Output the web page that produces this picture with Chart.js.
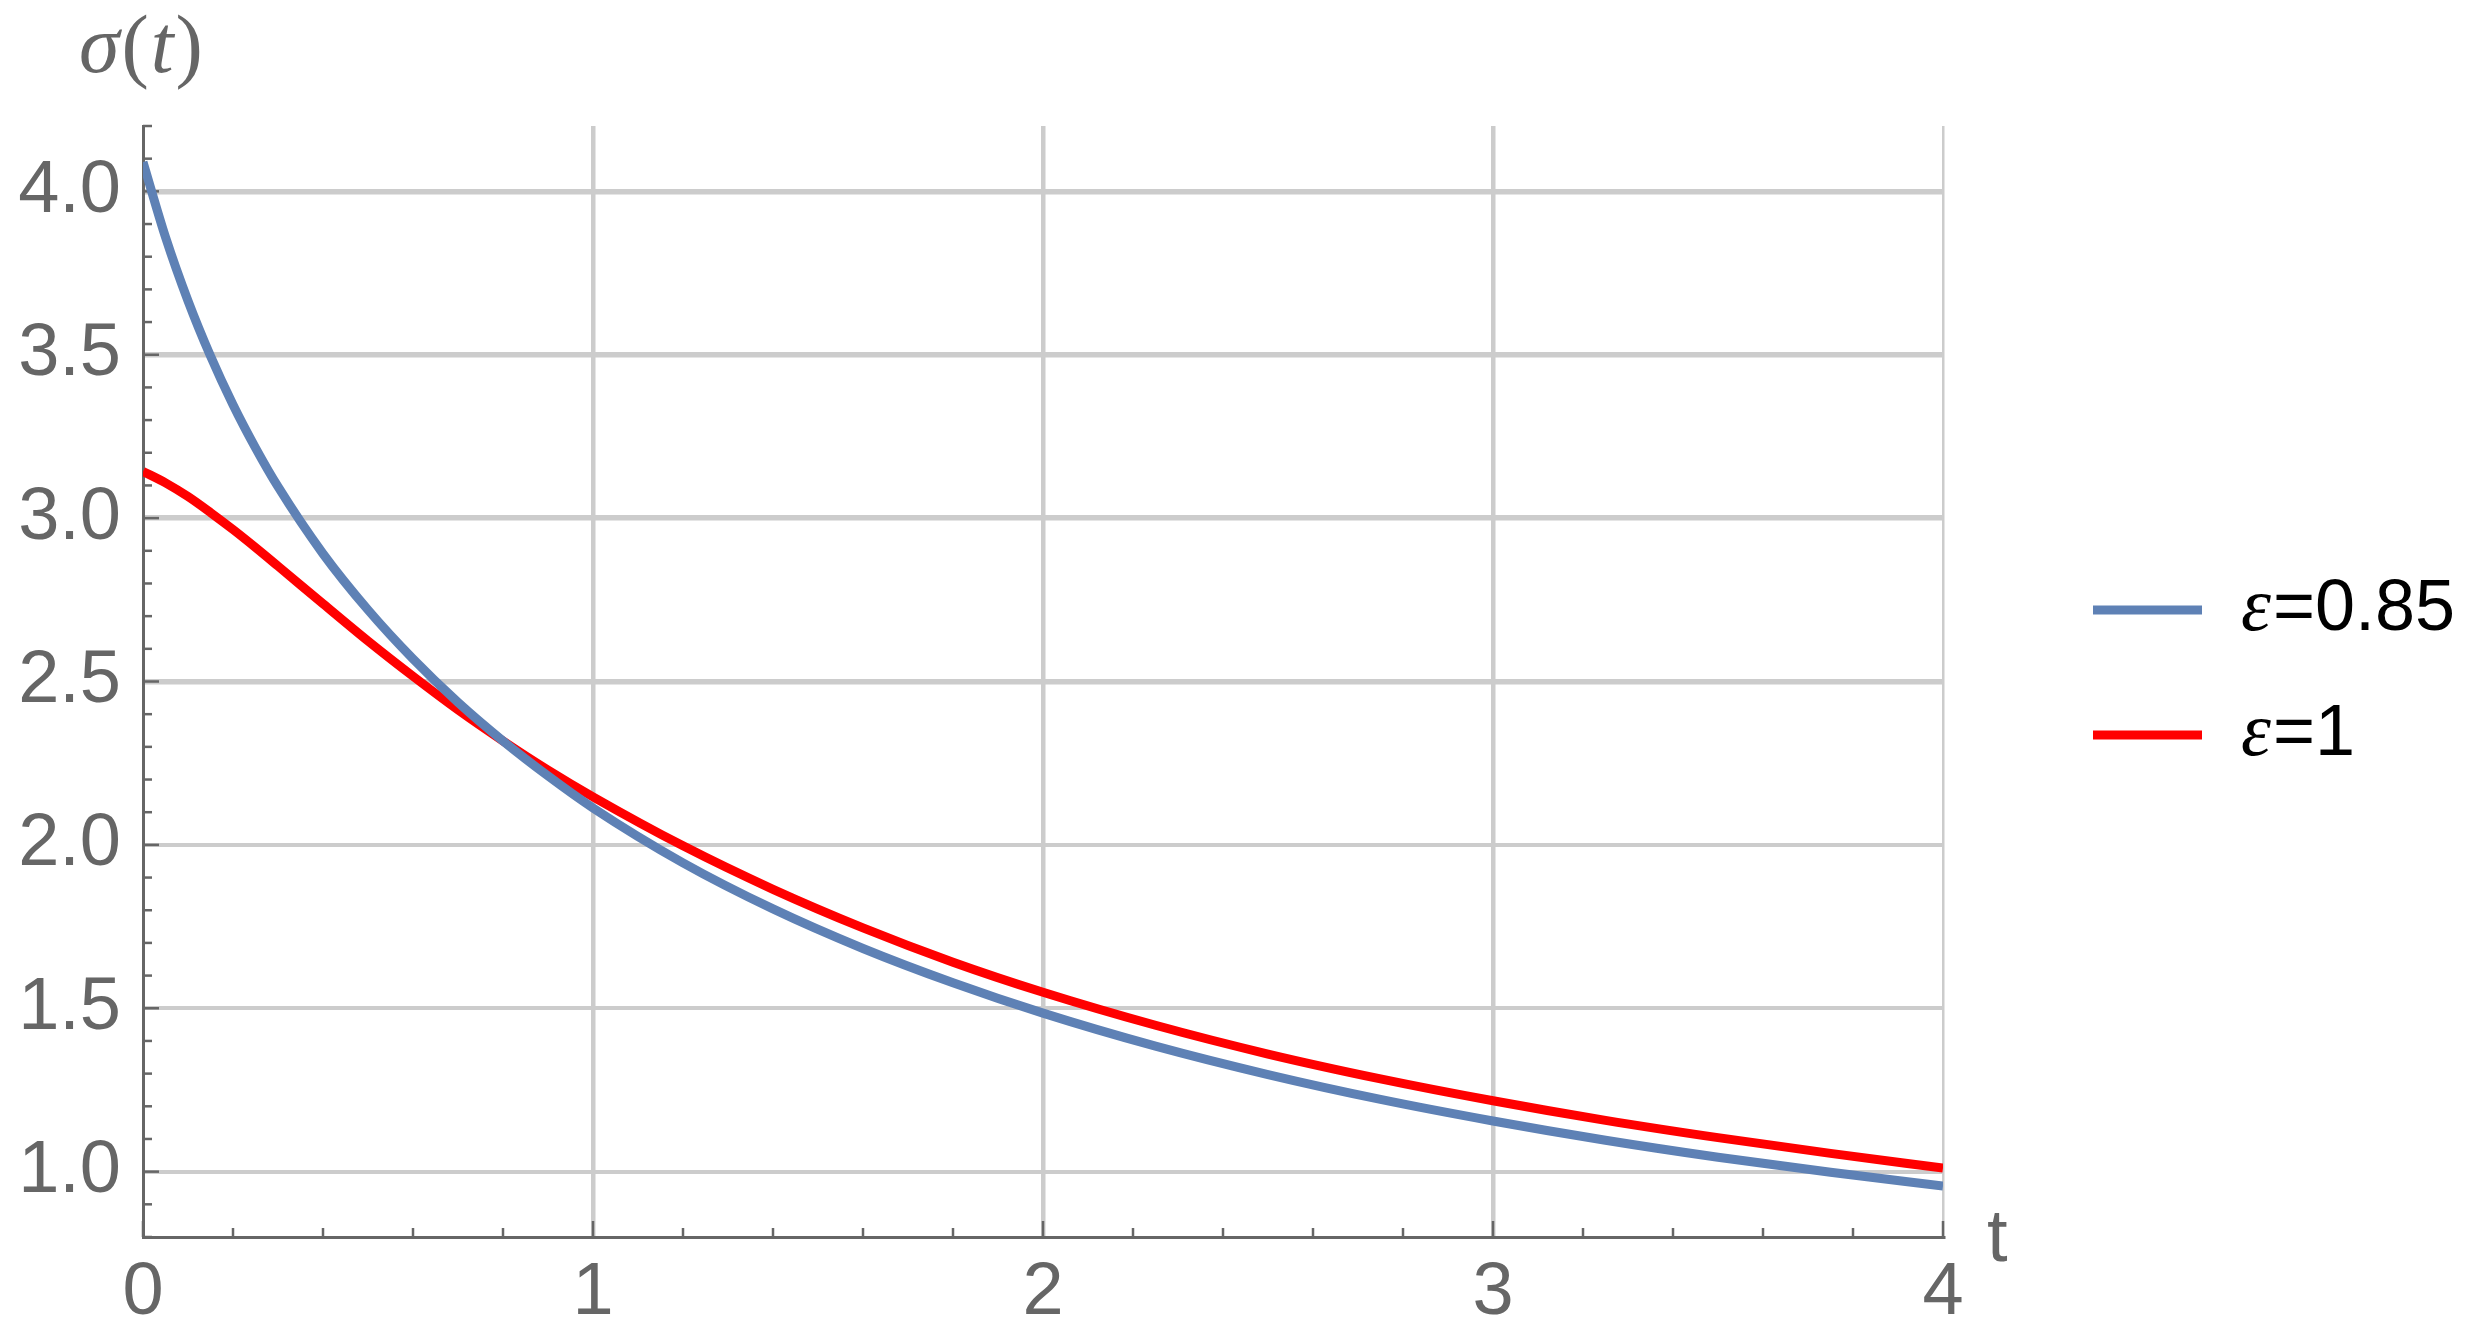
<!DOCTYPE html>
<html>
<head>
<meta charset="utf-8">
<title>sigma(t)</title>
<script src="https://cdn.jsdelivr.net/npm/chart.js@4.4.1/dist/chart.umd.min.js"></script>
<style>
html, body { margin: 0; padding: 0; background: #fff; }
canvas { display: block; }
</style>
</head>
<body>
<canvas id="graficaSigma" width="2471" height="1342"></canvas>
<script>
// valores
const tiempos = [0, 0.05, 0.1, 0.15, 0.2, 0.25, 0.3, 0.4, 0.5, 0.6, 0.7, 0.8, 0.9, 1.0,
  1.2, 1.4, 1.6, 1.8, 2.0, 2.25, 2.5, 2.75, 3.0, 3.25, 3.5, 3.75, 4.0];
const sigmaEps085 = [4.09, 3.86, 3.665, 3.496, 3.347, 3.215, 3.096, 2.891, 2.719, 2.569, 2.436, 2.318, 2.211, 2.113,
  1.945, 1.804, 1.683, 1.578, 1.485, 1.384, 1.297, 1.221, 1.155, 1.096, 1.044, 0.998, 0.956];
const sigmaEps1 = [3.143, 3.108, 3.066, 3.017, 2.965, 2.910, 2.853, 2.738, 2.624, 2.516, 2.413, 2.318, 2.229, 2.147,
  1.997, 1.864, 1.746, 1.641, 1.549, 1.448, 1.360, 1.284, 1.217, 1.157, 1.104, 1.056, 1.011];
const valoresEps = ["0.85", "1"];
const ticksY = [1.0, 1.5, 2.0, 2.5, 3.0, 3.5, 4.0];
const ticksX = [0, 1, 2, 3, 4];

const colores = ["#5e81b5", "#ff0000"];
const gris = "#666666";

function esMayor(v, lista) {
  return lista.some(m => Math.abs(m - v) < 1e-6);
}

const puntos = serie => tiempos.map((t, i) => ({ x: t, y: serie[i] }));

// marcas cortas hacia dentro en los ejes
const marcasInternas = {
  id: "marcasInternas",
  beforeDatasetsDraw(chart) {
    const { ctx, chartArea, scales: { x, y } } = chart;
    ctx.save();
    ctx.strokeStyle = gris;
    ctx.lineWidth = 2.5;
    y.ticks.forEach(t => {
      const py = y.getPixelForValue(t.value);
      const largo = esMayor(t.value, ticksY) ? 16 : 9;
      ctx.beginPath();
      ctx.moveTo(chartArea.left, py);
      ctx.lineTo(chartArea.left + largo, py);
      ctx.stroke();
    });
    x.ticks.forEach(t => {
      const px = x.getPixelForValue(t.value);
      const largo = esMayor(t.value, ticksX) ? 16 : 9;
      ctx.beginPath();
      ctx.moveTo(px, chartArea.bottom);
      ctx.lineTo(px, chartArea.bottom - largo);
      ctx.stroke();
    });
    ctx.restore();
  }
};

// titulos de ejes y leyenda
const textos = {
  id: "textos",
  afterDraw(chart) {
    const { ctx, chartArea } = chart;
    ctx.save();
    ctx.fillStyle = gris;
    ctx.textBaseline = "alphabetic";
    ctx.textAlign = "left";

    // sigma(t) arriba a la izquierda
    const partes = [
      ["σ", "italic 82px 'Liberation Serif'"],
      ["(", "82px 'Liberation Serif'"],
      ["t", "italic 82px 'Liberation Serif'"],
      [")", "82px 'Liberation Serif'"]
    ];
    let px = chartArea.left - 64;
    const by = chartArea.top - 54;
    partes.forEach(([txt, fuente]) => {
      ctx.font = fuente;
      ctx.fillText(txt, px, by);
      px += ctx.measureText(txt).width + 2;
    });

    // t al final del eje x
    ctx.font = "74px 'Liberation Sans'";
    ctx.fillText("t", chartArea.right + 44, chartArea.bottom + 24);

    // leyenda
    const medio = chart.height / 2;
    chart.data.datasets.forEach((ds, i) => {
      const ly = medio - 61 + i * 125;
      ctx.strokeStyle = ds.borderColor;
      ctx.lineWidth = 9;
      ctx.lineCap = "butt";
      ctx.beginPath();
      ctx.moveTo(chartArea.right + 150, ly);
      ctx.lineTo(chartArea.right + 259, ly);
      ctx.stroke();

      ctx.fillStyle = "#000";
      let tx = chartArea.right + 298;
      ctx.font = "italic 76px 'Liberation Serif'";
      ctx.fillText("ε", tx, ly + 20);
      tx += ctx.measureText("ε").width + 2;
      ctx.font = "72px 'Liberation Sans'";
      ctx.fillText("=" + valoresEps[i], tx, ly + 20);
    });
    ctx.restore();
  }
};

new Chart(document.getElementById("graficaSigma"), {
  type: "line",
  data: {
    datasets: [
      {
        label: "ε=" + valoresEps[0],
        data: puntos(sigmaEps085),
        borderColor: colores[0],
        borderWidth: 9,
        pointRadius: 0,
        cubicInterpolationMode: "monotone",
        fill: false
      },
      {
        label: "ε=" + valoresEps[1],
        data: puntos(sigmaEps1),
        borderColor: colores[1],
        borderWidth: 9,
        pointRadius: 0,
        cubicInterpolationMode: "monotone",
        fill: false
      }
    ]
  },
  options: {
    responsive: false,
    animation: false,
    devicePixelRatio: 1,
    layout: { padding: { left: 0, top: 126, right: 528, bottom: 0 } },
    plugins: {
      legend: { display: false },
      tooltip: { enabled: false }
    },
    scales: {
      x: {
        type: "linear",
        min: 0,
        max: 4,
        afterFit: s => { s.height = 105; },
        ticks: {
          stepSize: 0.2,
          padding: 12,
          color: gris,
          font: { family: "'Liberation Sans'", size: 74 },
          maxRotation: 0,
          autoSkip: false,
          callback: v => esMayor(v, ticksX) ? String(Math.round(v)) : ""
        },
        grid: {
          drawTicks: false,
          color: c => (c.tick && c.tick.value > 0 && esMayor(c.tick.value, ticksX)) ? "#cccccc" : "rgba(0,0,0,0)",
          lineWidth: c => (c.tick && c.tick.value > 3.5) ? 2.5 : 4.5
        },
        border: { display: true, color: gris, width: 3 }
      },
      y: {
        min: 0.8,
        max: 4.2,
        afterFit: s => { s.width = 143; },
        ticks: {
          stepSize: 0.1,
          padding: 22,
          color: gris,
          font: { family: "'Liberation Sans'", size: 74 },
          autoSkip: false,
          callback: v => esMayor(v, ticksY) ? v.toFixed(1) : ""
        },
        grid: {
          drawTicks: false,
          color: c => (c.tick && esMayor(c.tick.value, ticksY)) ? "#cccccc" : "rgba(0,0,0,0)",
          lineWidth: c => (c.tick && c.tick.value > 2.25) ? 5.5 : 4
        },
        border: { display: true, color: gris, width: 3 }
      }
    }
  },
  plugins: [marcasInternas, textos]
});
</script>
</body>
</html>
